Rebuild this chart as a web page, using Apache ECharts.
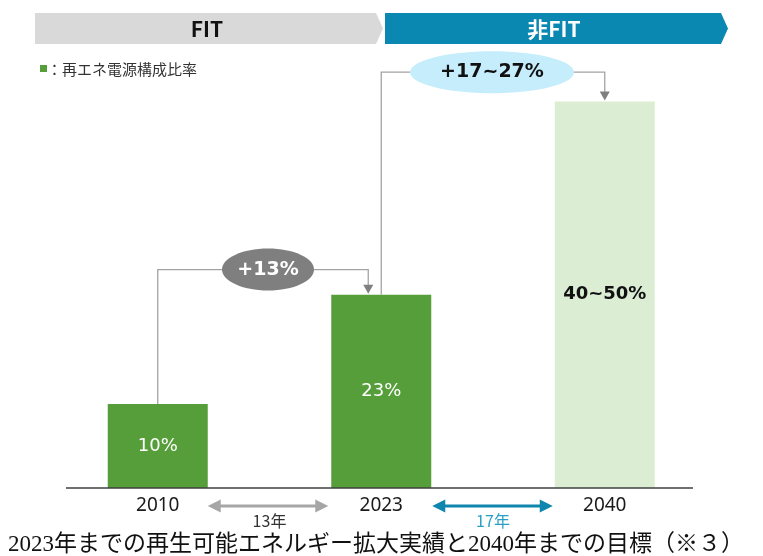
<!DOCTYPE html>
<html>
<head>
<meta charset="utf-8">
<script src="https://cdn.jsdelivr.net/npm/echarts@6/dist/echarts.min.js"></script>
<style>
  html, body { margin: 0; padding: 0; background: #fff; }
  #chart { width: 763px; height: 556px; }
</style>
</head>
<body>
<div id="chart"></div>
<script>
// data
const years = ['2010', '2023', '2040']
const shares = [10, 23, 46]
const barLabels = ['10%', '23%', '40~50%']
const barColors = ['#559e3a', '#559e3a', '#dbeed3']
const gapLabels = ['13年', '17年']
const increases = ['+13%', '+17~27%']
const phases = ['FIT', '非FIT']
const legendText = '：再エネ電源構成比率'
const caption = '2023年までの再生可能エネルギー拡大実績と2040年までの目標（※３）'

const sans = '"Noto Sans", "Noto Sans CJK JP", sans-serif'
const verd = '"DejaVu Sans", "Noto Sans CJK JP", sans-serif'

const chart = echarts.init(document.getElementById('chart'))

chart.setOption({
  backgroundColor: '#fff',
  animation: false,
  grid: { left: 46, right: 46.5, top: 68, bottom: 68 },
  xAxis: {
    type: 'category',
    data: years,
    axisLine: { show: false },
    axisTick: { show: false },
    axisLabel: { margin: 8, fontSize: 19, color: '#1a1a1a', fontFamily: sans }
  },
  yAxis: { type: 'value', min: 0, max: 50, show: false },
  series: [{
    type: 'bar',
    barWidth: 100,
    data: shares.map((v, i) => ({
      value: v,
      itemStyle: { color: barColors[i] },
      label: {
        show: true,
        position: 'inside',
        formatter: barLabels[i],
        fontFamily: verd,
        fontSize: 18,
        fontWeight: i === 2 ? 'bold' : 'normal',
        color: i === 2 ? '#111' : '#fff'
      }
    }))
  }]
})

// annotations (brackets, ellipses, banners) placed from the axes
const px = (i, v) => chart.convertToPixel({ gridIndex: 0 }, [years[i], v])
const lineCol = '#a3a3a3'
const headCol = '#7f7f7f'

function bracket(from, to, hY, endDx) {
  const a = px(from, shares[from])
  const b = px(to, shares[to])
  const y = px(0, hY)[1]
  const x2 = b[0] + endDx
  return [
    { type: 'polyline', shape: { points: [[a[0], a[1]], [a[0], y], [x2, y], [x2, b[1] - 9]] },
      style: { stroke: lineCol, lineWidth: 1.3, fill: null }, z: 5 },
    { type: 'polygon', shape: { points: [[x2 - 5, b[1] - 10], [x2 + 5, b[1] - 10], [x2, b[1] - 1]] },
      style: { fill: headCol }, z: 5 }
  ]
}

function ellipse(cx, cy, rx, ry, fill, text, color) {
  return [
    { type: 'ellipse', shape: { cx: cx, cy: cy, rx: rx, ry: ry }, style: { fill: fill }, z: 6 },
    { type: 'text', x: cx, y: cy, z: 7,
      style: { text: text, fill: color, font: 'bold 19px "DejaVu Sans", sans-serif', align: 'center', verticalAlign: 'middle' } }
  ]
}

function dblArrow(x1, x2, y, color) {
  return [
    { type: 'line', shape: { x1: x1 + 10, y1: y, x2: x2 - 10, y2: y }, style: { stroke: color, lineWidth: 3 } },
    { type: 'polygon', shape: { points: [[x1, y], [x1 + 13, y - 6.5], [x1 + 13, y + 6.5]] }, style: { fill: color } },
    { type: 'polygon', shape: { points: [[x2, y], [x2 - 13, y - 6.5], [x2 - 13, y + 6.5]] }, style: { fill: color } }
  ]
}

const b0 = px(0, 0)
const b1 = px(1, 0)
const b2 = px(2, 0)
const h1 = px(0, 26)[1]
const h2 = px(0, 49.5)[1]

const graphic = [].concat(
  // phase banners
  { type: 'polygon', shape: { points: [[35, 13], [376, 13], [383, 28.5], [376, 44], [35, 44]] }, style: { fill: '#d9d9d9' } },
  { type: 'polygon', shape: { points: [[385, 13], [721, 13], [728, 28.5], [721, 44], [385, 44]] }, style: { fill: '#0b88b1' } },
  { type: 'text', x: 207, y: 29, style: { text: phases[0], fill: '#111', font: 'bold 21px "Noto Sans CJK JP", sans-serif', align: 'center', verticalAlign: 'middle' } },
  { type: 'text', x: 554, y: 29, style: { text: phases[1], fill: '#fff', font: 'bold 21px "Noto Sans CJK JP", sans-serif', align: 'center', verticalAlign: 'middle' } },
  // legend
  { type: 'rect', shape: { x: 40, y: 65, width: 7, height: 7 }, style: { fill: '#559e3a' } },
  { type: 'text', x: 47, y: 69, style: { text: legendText, fill: '#333', font: '15px "Noto Sans CJK JP", sans-serif', verticalAlign: 'middle' } },
  // baseline
  { type: 'line', shape: { x1: 66, y1: b0[1], x2: 693, y2: b0[1] }, style: { stroke: '#404040', lineWidth: 1.5 }, z: 4 },
  // brackets
  bracket(0, 1, 26, -13),
  bracket(1, 2, 49.5, 0),
  ellipse((b0[0] + b1[0] - 13) / 2 + 5, h1, 46, 21, '#7f7f7f', increases[0], '#fff'),
  ellipse(492, h2, 82, 21, '#c5edfb', increases[1], '#111'),
  // gap arrows
  dblArrow(b0[0] + 50, b1[0] - 53, 506, '#a6a6a6'),
  dblArrow(b1[0] + 51, b2[0] - 52, 506, '#0e86ad'),
  { type: 'text', x: (b0[0] + b1[0]) / 2, y: 521, style: { text: gapLabels[0], fill: '#333', font: '16px "Noto Sans CJK JP", sans-serif', align: 'center', verticalAlign: 'middle' } },
  { type: 'text', x: (b1[0] + b2[0]) / 2, y: 521, style: { text: gapLabels[1], fill: '#2a9fc6', font: '16px "Noto Sans CJK JP", sans-serif', align: 'center', verticalAlign: 'middle' } },
  // caption
  { type: 'text', x: 8, y: 545, style: { text: caption, fill: '#111', font: '23px "Liberation Serif", "Noto Sans CJK JP", serif', verticalAlign: 'middle' } }
)

chart.setOption({ graphic: graphic })
</script>
</body>
</html>
